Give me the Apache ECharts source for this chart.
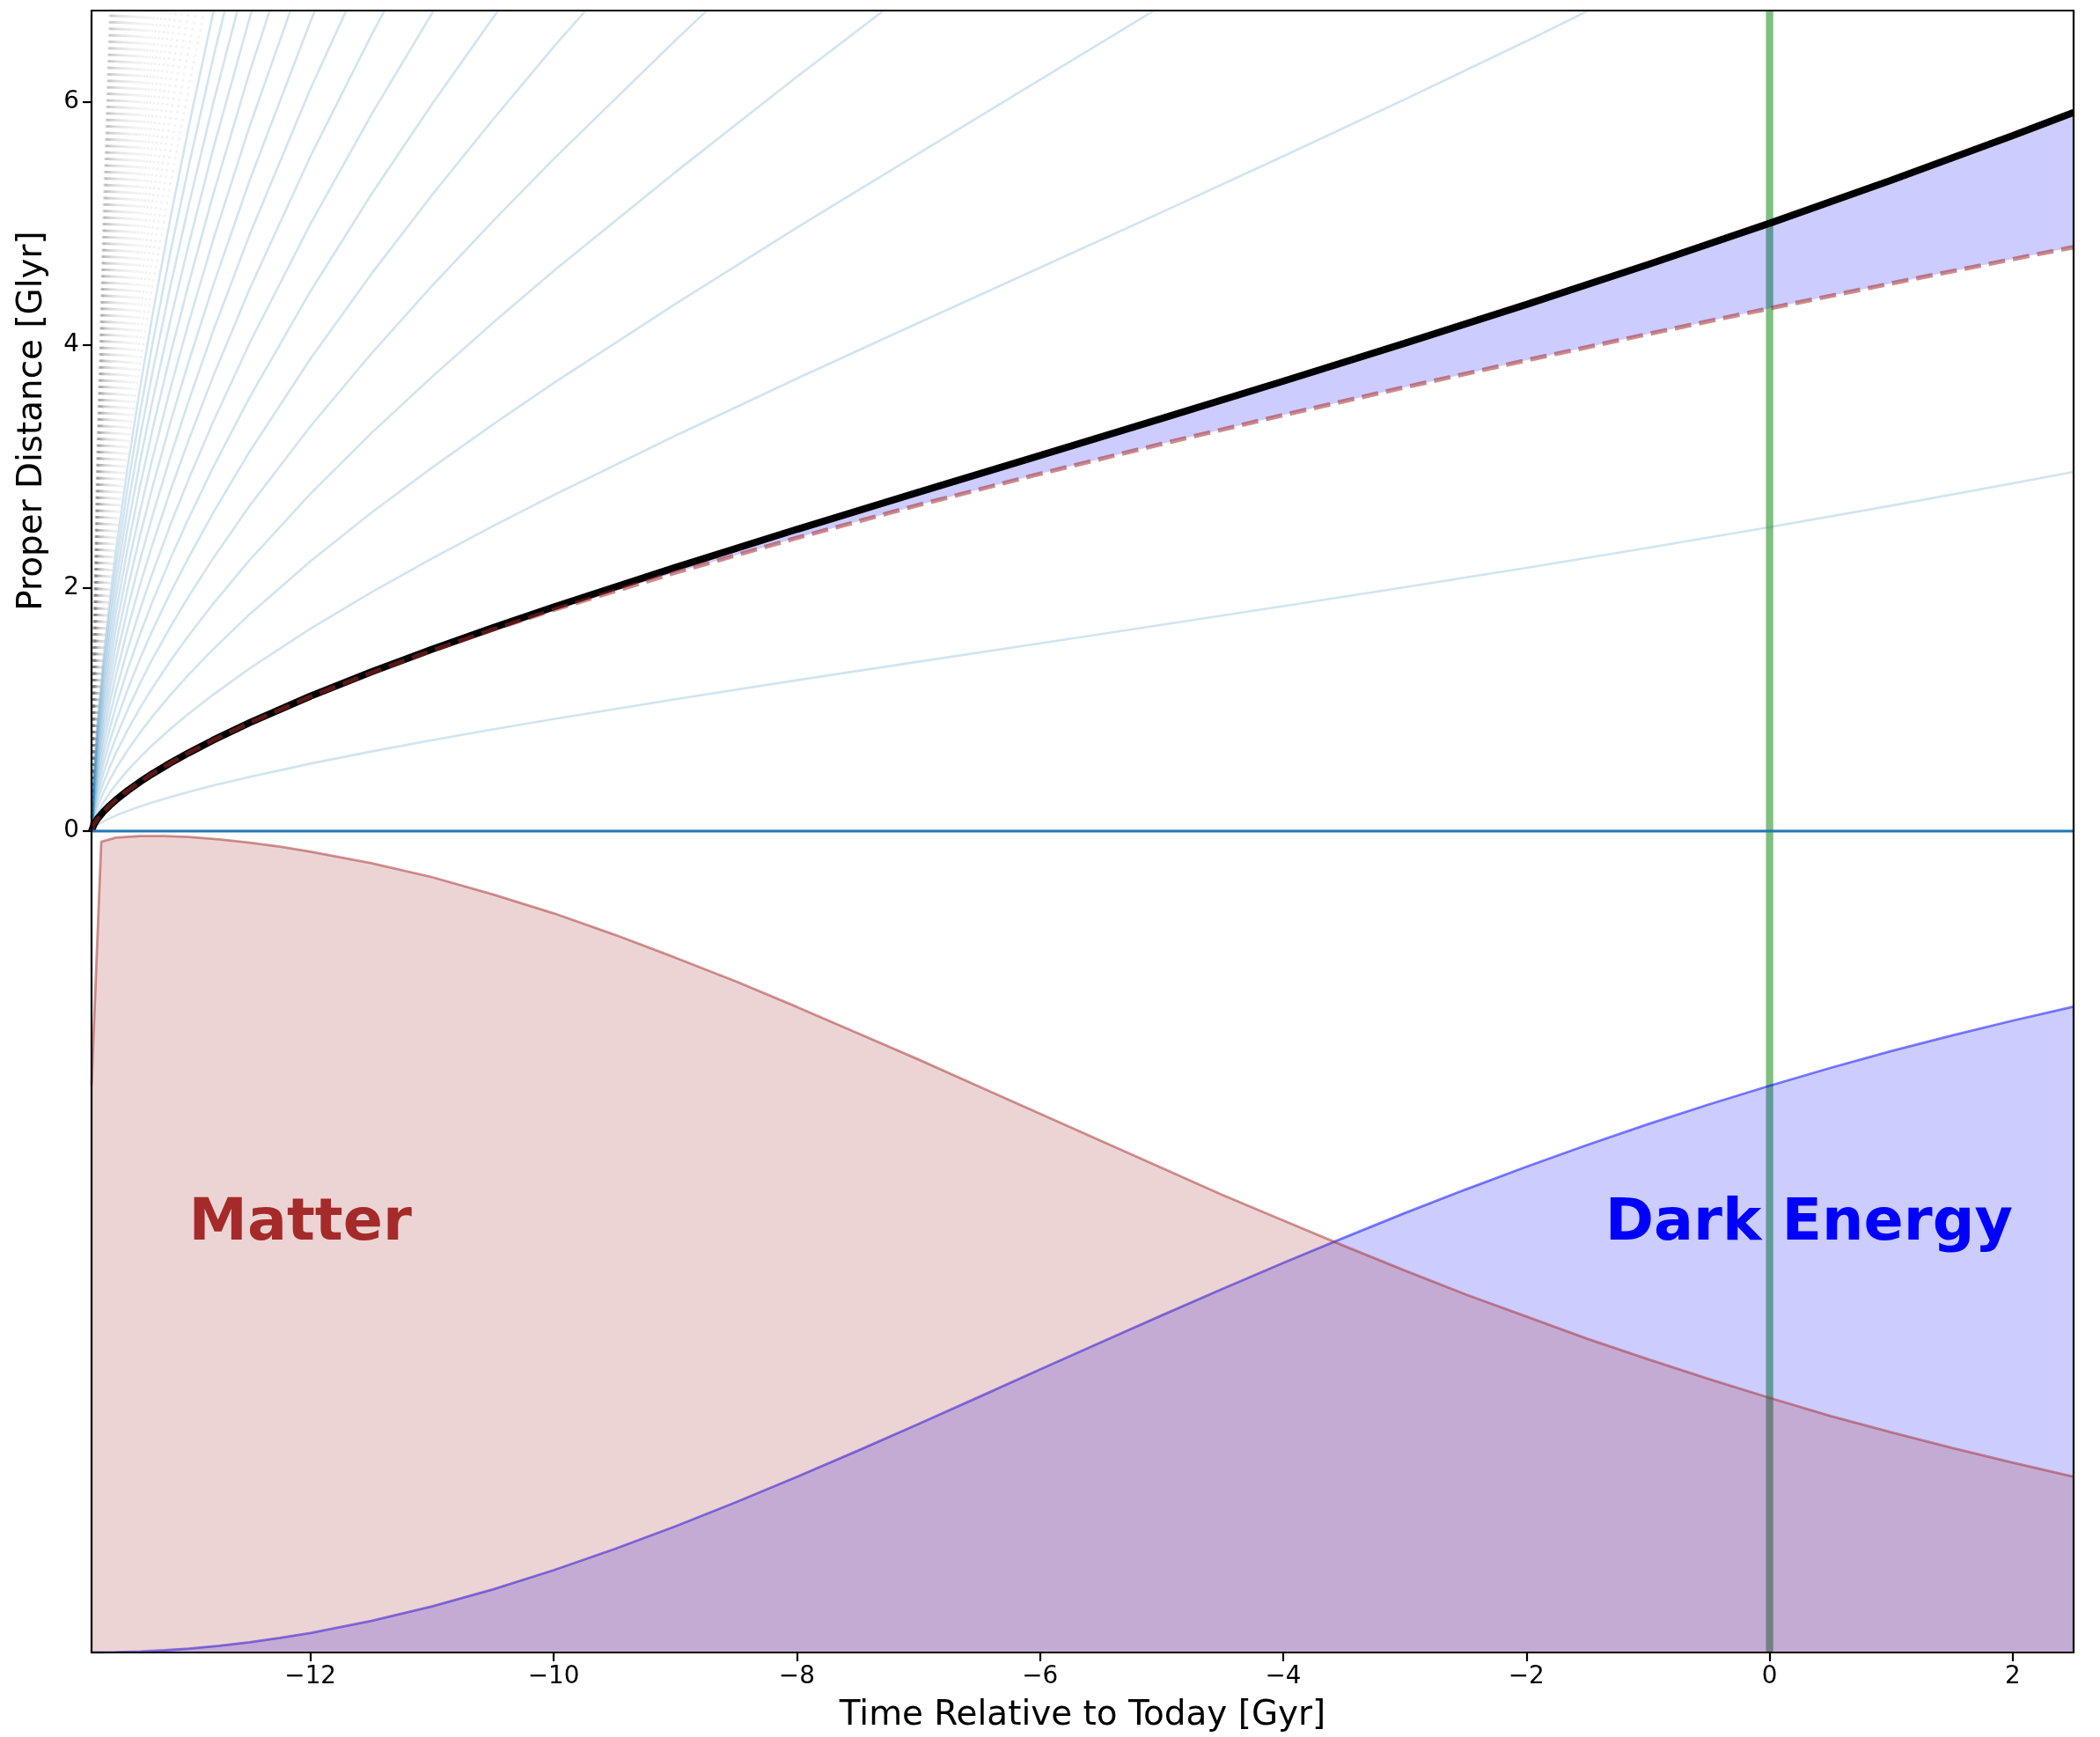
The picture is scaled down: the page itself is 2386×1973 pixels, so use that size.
<!DOCTYPE html>
<html>
<head>
<meta charset="utf-8">
<script src="https://cdn.jsdelivr.net/npm/echarts@6/dist/echarts.min.js"></script>
<style>
  html, body { margin: 0; padding: 0; background: #ffffff; }
  #chart { width: 2386px; height: 1973px; }
</style>
</head>
<body>
<div id="chart"></div>
<script>
// Cosmic time relative to today (Gyr) for the distance curves
const timeGyr = [-13.8, -13.78, -13.75, -13.7, -13.65, -13.6, -13.5, -13.4, -13.3, -13.15,
                 -13.0, -12.8, -12.5, -12.0, -11.5, -11.0, -10.5, -10.0, -9.0, -8.0,
                 -7.0, -6.0, -5.0, -4.0, -3.0, -2.0, -1.0, 0, 1, 2, 2.5];

// Proper distance of a galaxy 5 Glyr away today (Lambda-CDM expansion)
const galaxyDistance = [0, 0.055, 0.102, 0.161, 0.211, 0.256, 0.335, 0.406, 0.471, 0.561,
                        0.644, 0.748, 0.892, 1.110, 1.309, 1.495, 1.672, 1.843, 2.168, 2.482,
                        2.787, 3.090, 3.394, 3.701, 4.013, 4.332, 4.661, 5.000, 5.354, 5.722, 5.911];

// Same galaxy in a matter-only universe
const matterOnlyDistance = [0, 0.055, 0.101, 0.161, 0.211, 0.256, 0.335, 0.406, 0.471, 0.561,
                            0.644, 0.747, 0.890, 1.106, 1.302, 1.485, 1.657, 1.820, 2.126, 2.412,
                            2.682, 2.939, 3.185, 3.422, 3.651, 3.873, 4.089, 4.300, 4.505, 4.705, 4.804];

// Energy budget of the universe over time
const fractionTimeGyr = [-13.8, -13.72, -13.6, -13.4, -13.2, -13.0, -12.75, -12.5, -12.25, -12.0,
                         -11.5, -11.0, -10.5, -10.0, -9.5, -9.0, -8.5, -8.0, -7.5, -7.0,
                         -6.5, -6.0, -5.5, -5.0, -4.5, -4.0, -3.5, -3.0, -2.5, -2.0,
                         -1.5, -1.0, -0.5, 0, 0.5, 1, 1.5, 2, 2.5];
const matterFraction = [0.69, 0.987, 0.992, 0.994, 0.994, 0.993, 0.990, 0.986, 0.981, 0.975,
                        0.961, 0.944, 0.923, 0.900, 0.874, 0.846, 0.817, 0.786, 0.754, 0.722,
                        0.689, 0.656, 0.623, 0.590, 0.557, 0.526, 0.495, 0.465, 0.436, 0.409,
                        0.382, 0.357, 0.333, 0.310, 0.288, 0.268, 0.249, 0.231, 0.214];
const darkEnergyFraction = [0, 0, 0.0003, 0.0012, 0.0027, 0.0047, 0.0082, 0.0125, 0.0177, 0.0237,
                            0.0384, 0.0562, 0.0768, 0.1002, 0.1259, 0.1536, 0.1830, 0.2139, 0.2456, 0.2782,
                            0.3112, 0.3445, 0.3775, 0.4104, 0.4426, 0.4743, 0.5050, 0.5350, 0.5637, 0.5914,
                            0.6179, 0.6432, 0.6672, 0.690, 0.7117, 0.7321, 0.7512, 0.7693, 0.7862];

// Comoving distances (Glyr) of the co-moving galaxy worldlines
const solidComoving = [2.5, 5, 7.5, 10, 12.5, 15, 17.5, 20, 22.5, 25, 27.5, 30, 32.5, 35, 37.5,
                       40, 42.5, 45];
const dottedComoving = [47.5, 50, 52.5, 55, 57.5, 60, 62.5, 65, 67.5, 70, 72.5, 75, 77.5, 80,
                        82.5, 85, 87.5, 90, 92.5, 95, 97.5, 100, 102.5, 105, 107.5, 110, 112.5,
                        115, 117.5, 120, 122.5, 125, 127.5, 130, 132.5, 135, 137.5, 140, 142.5,
                        145, 147.5, 150, 152.5, 155, 157.5, 160];

const xTicks = [-12, -10, -8, -6, -4, -2, 0, 2];
const yTicks = [0, 2, 4, 6];
const timeRange = [-13.8, 2.5];
const distanceMax = 6.75;

// Layout (pixels)
const plotLeft = 104, plotRight = 2356, plotTop = 12, plotMid = 944, plotBottom = 1877;
const FONT = 'DejaVu Sans';

const chart = echarts.init(document.getElementById('chart'), null, { renderer: 'canvas' });

const todayIndex = timeGyr.indexOf(0);
const scaleFactor = galaxyDistance.map(d => d / galaxyDistance[todayIndex]);
const pairs = (xs, ys) => xs.map((x, i) => [x, ys[i]]);
const minusSign = v => String(v).replace('-', '\u2212');

const series = [];

// "Today" marker, drawn underneath everything
series.push({
  type: 'line', xAxisIndex: 0, yAxisIndex: 0, data: [[0, 0], [0, distanceMax]],
  symbol: 'none', silent: true, z: 1, clip: false,
  lineStyle: { color: 'rgba(0,128,0,0.5)', width: 8.3 }
});
series.push({
  type: 'line', xAxisIndex: 1, yAxisIndex: 1, data: [[0, 0], [0, 1]],
  symbol: 'none', silent: true, z: 1, clip: false,
  lineStyle: { color: 'rgba(0,128,0,0.5)', width: 8.3 }
});

// Galaxy worldlines
dottedComoving.forEach(chi => {
  series.push({
    type: 'line', xAxisIndex: 0, yAxisIndex: 0, symbol: 'none', silent: true, z: 2,
    data: pairs(timeGyr, scaleFactor.map(a => a * chi)),
    lineStyle: { color: 'rgba(128,128,128,0.1)', width: 2.6, type: [2.8, 4.6] }
  });
});
solidComoving.forEach(chi => {
  series.push({
    type: 'line', xAxisIndex: 0, yAxisIndex: 0, symbol: 'none', silent: true, z: 2,
    data: pairs(timeGyr, scaleFactor.map(a => a * chi)),
    lineStyle: { color: 'rgba(31,119,180,0.2)', width: 2.6 }
  });
});

// Extra distance gained from dark energy: band between the two galaxy curves
series.push({
  type: 'custom', xAxisIndex: 0, yAxisIndex: 0, silent: true, z: 3,
  data: [[timeRange[0], 0]],
  renderItem: (params, api) => {
    const upper = timeGyr.map((t, i) => api.coord([t, galaxyDistance[i]]));
    const lower = timeGyr.map((t, i) => api.coord([t, matterOnlyDistance[i]])).reverse();
    return {
      type: 'polygon',
      shape: { points: upper.concat(lower) },
      style: { fill: 'rgba(0,0,255,0.2)', stroke: 'none' }
    };
  }
});

// Lambda-CDM galaxy
series.push({
  type: 'line', xAxisIndex: 0, yAxisIndex: 0, symbol: 'none', silent: true, z: 5,
  data: pairs(timeGyr, galaxyDistance),
  lineStyle: { color: '#000000', width: 8 }
});
// Matter-only galaxy
series.push({
  type: 'line', xAxisIndex: 0, yAxisIndex: 0, symbol: 'none', silent: true, z: 6,
  data: pairs(timeGyr, matterOnlyDistance),
  lineStyle: { color: 'rgba(165,42,42,0.55)', width: 5, type: [19, 9] }
});
// Zero line separating the panels
series.push({
  type: 'line', xAxisIndex: 0, yAxisIndex: 0, symbol: 'none', silent: true, z: 7, clip: false,
  data: [[timeRange[0], 0], [timeRange[1], 0]],
  lineStyle: { color: '#1f77b4', width: 2.8 }
});

// Energy fractions
series.push({
  type: 'line', xAxisIndex: 1, yAxisIndex: 1, symbol: 'none', silent: true, z: 3,
  data: pairs(fractionTimeGyr, darkEnergyFraction),
  lineStyle: { color: 'rgba(0,0,255,0.5)', width: 2.8 },
  areaStyle: { color: 'rgba(0,0,255,0.2)', opacity: 1 }
});
series.push({
  type: 'line', xAxisIndex: 1, yAxisIndex: 1, symbol: 'none', silent: true, z: 4,
  data: pairs(fractionTimeGyr, matterFraction),
  lineStyle: { color: 'rgba(165,42,42,0.5)', width: 2.8 },
  areaStyle: { color: 'rgba(165,42,42,0.2)', opacity: 1 }
});

const option = {
  animation: false,
  backgroundColor: '#ffffff',
  grid: [
    { left: plotLeft, top: plotTop, width: plotRight - plotLeft, height: plotMid - plotTop },
    { left: plotLeft, top: plotMid, width: plotRight - plotLeft, height: plotBottom - plotMid }
  ],
  xAxis: [
    {
      type: 'value', gridIndex: 0, min: timeRange[0], max: timeRange[1],
      axisLine: { show: false, onZero: false }, axisTick: { show: false },
      axisLabel: { show: false }, splitLine: { show: false }
    },
    {
      type: 'value', gridIndex: 1, min: timeRange[0], max: timeRange[1], position: 'bottom',
      axisLine: { show: false, onZero: false }, splitLine: { show: false },
      axisTick: { show: true, customValues: xTicks, length: 10, inside: false,
                  lineStyle: { color: '#000000', width: 2.2 } },
      axisLabel: { show: true, customValues: xTicks, margin: 14, formatter: minusSign,
                   fontFamily: FONT, fontSize: 27.8, color: '#000000' },
      name: 'Time Relative to Today [Gyr]', nameLocation: 'middle', nameGap: 52,
      nameTextStyle: { fontFamily: FONT, fontSize: 38.9, color: '#000000' }
    }
  ],
  yAxis: [
    {
      type: 'value', gridIndex: 0, min: 0, max: distanceMax, position: 'left',
      axisLine: { show: false, onZero: false }, splitLine: { show: false },
      axisTick: { show: true, customValues: yTicks, length: 10, inside: false,
                  lineStyle: { color: '#000000', width: 2.2 } },
      axisLabel: { show: true, customValues: yTicks, margin: 14, formatter: minusSign,
                   fontFamily: FONT, fontSize: 27.8, color: '#000000' },
      name: 'Proper Distance [Glyr]', nameLocation: 'middle', nameGap: 48,
      nameTextStyle: { fontFamily: FONT, fontSize: 38.9, color: '#000000' }
    },
    {
      type: 'value', gridIndex: 1, min: 0, max: 1, show: false,
      axisLine: { onZero: false }, splitLine: { show: false }
    }
  ],
  series: series,
  graphic: [{
    id: 'frame', type: 'rect', silent: true, z: 100,
    shape: { x: plotLeft, y: plotTop, width: plotRight - plotLeft, height: plotBottom - plotTop },
    style: { fill: 'none', stroke: '#000000', lineWidth: 2.2 }
  }]
};

chart.setOption(option);

// Component labels in the energy panel, anchored at data coordinates
const matterAt = chart.convertToPixel({ xAxisIndex: 1, yAxisIndex: 1 }, [-13, 0.5]);
const darkAt = chart.convertToPixel({ xAxisIndex: 1, yAxisIndex: 1 }, [2, 0.5]);
const labelSize = 66.7;
chart.setOption({
  graphic: [
    {
      id: 'matterLabel', type: 'text', silent: true, z: 50,
      style: { x: matterAt[0], y: matterAt[1] - 0.3 * labelSize, text: 'Matter',
               font: 'bold ' + labelSize + 'px "' + FONT + '"', fill: '#a52a2a',
               align: 'left', verticalAlign: 'middle' }
    },
    {
      id: 'darkLabel', type: 'text', silent: true, z: 50,
      style: { x: darkAt[0], y: darkAt[1] - 0.3 * labelSize, text: 'Dark Energy',
               font: 'bold ' + labelSize + 'px "' + FONT + '"', fill: '#0000ff',
               align: 'right', verticalAlign: 'middle' }
    }
  ]
});
</script>
</body>
</html>
